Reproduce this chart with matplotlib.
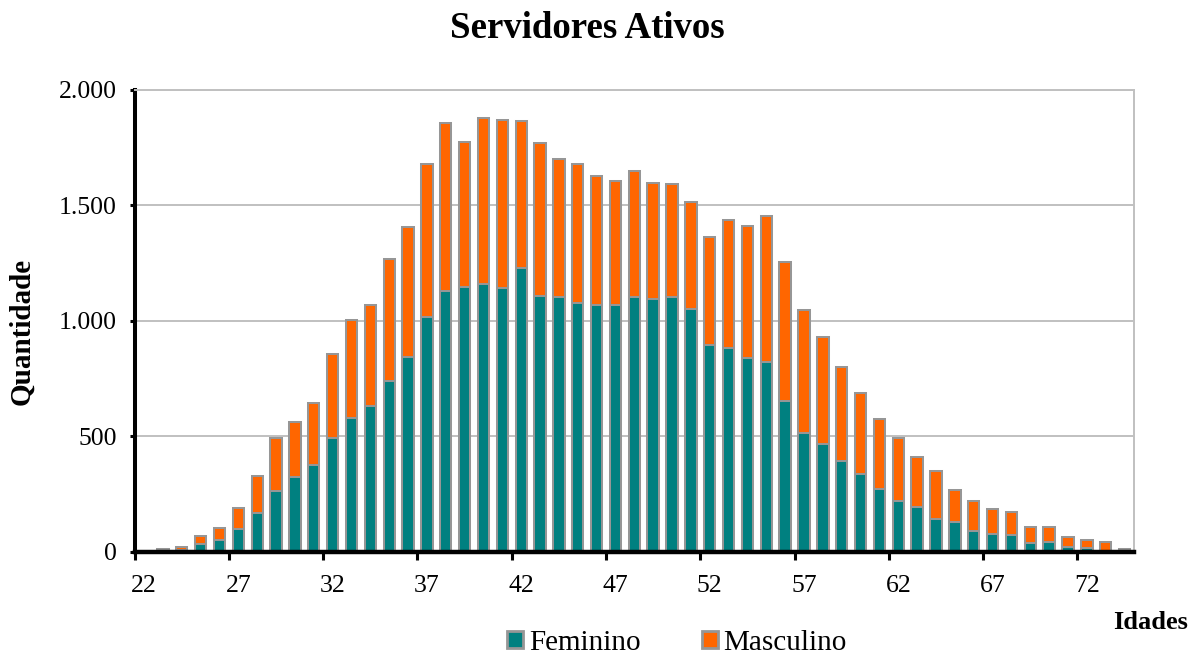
import matplotlib
matplotlib.use("Agg")
import matplotlib.pyplot as plt
from matplotlib.ticker import FuncFormatter, FixedLocator
import numpy as np

# ---- data ----
ages = list(range(22, 75))
feminino = [0, 3, 5, 32, 52, 96, 169, 262, 322, 376, 493, 580, 630, 738, 844,
            1017, 1130, 1147, 1158, 1143, 1230, 1108, 1101, 1075, 1068, 1068,
            1101, 1094, 1104, 1053, 897, 884, 837, 822, 653, 514, 464, 392,
            334, 270, 220, 191, 143, 126, 90, 78, 71, 39, 42, 20, 17, 3, 2]
masculino = [0, 10, 15, 36, 48, 94, 159, 228, 238, 269, 362, 425, 440, 528,
             564, 661, 725, 628, 719, 727, 635, 661, 601, 603, 561, 536, 548,
             504, 488, 460, 467, 552, 573, 632, 603, 532, 464, 409, 351, 304,
             274, 217, 205, 140, 128, 106, 101, 68, 65, 44, 35, 39, 10]
yticks = [0, 500, 1000, 1500, 2000]
title = "Servidores Ativos"
series_names = ["Feminino", "Masculino"]

# ---- style ----
plt.rcParams['font.family'] = ['Liberation Serif', 'DejaVu Serif']
teal = "#008080"
orange = "#FF6600"
edge = "#969696"
grid_c = "#C0C0C0"

W, H = 1201, 657
fig = plt.figure(figsize=(W / 100, H / 100), dpi=100)
left, right, top, bottom = 134.6, 1134, 90, 551.5
ax = fig.add_axes([left / W, 1 - bottom / H, (right - left) / W, (bottom - top) / H])

x = np.arange(len(ages))
bw = 0.6
lw = 1.45
b1 = ax.bar(x, feminino, width=bw, color=teal, edgecolor=edge, linewidth=lw,
            label=series_names[0], zorder=3)
b2 = ax.bar(x, masculino, width=bw, bottom=feminino, color=orange, edgecolor=edge,
            linewidth=lw, label=series_names[1], zorder=3)

ax.set_xlim(-0.5, len(ages) - 0.5)
ax.set_ylim(0, 2000)

ax.set_yticks(yticks)
ax.yaxis.set_major_formatter(FuncFormatter(lambda v, p: f"{int(v):,}".replace(",", ".")))
ax.yaxis.grid(True, color=grid_c, linewidth=1.4, zorder=0)
ax.set_axisbelow(True)

# x labels every 5 categories, tick marks at category boundaries
lab_idx = list(range(0, len(ages), 5))
ax.set_xticks(lab_idx)
ax.set_xticklabels([str(ages[i]) for i in lab_idx])
ax.xaxis.set_minor_locator(FixedLocator([i - 0.5 for i in lab_idx]))
ax.tick_params(axis='x', which='major', length=0, pad=17, labelsize=18.5)
ax.tick_params(axis='x', which='minor', length=5.5, width=2.2, color='black', direction='out')
ax.tick_params(axis='y', which='major', length=3.8, width=2.2, color='black',
               direction='out', pad=9, labelsize=18.5)

ax.spines['left'].set_linewidth(2.9)
ax.spines['left'].set_color('black')
ax.spines['bottom'].set_linewidth(3.2)
ax.spines['bottom'].set_color('black')
ax.spines['bottom'].set_zorder(5)
ax.spines['right'].set_color(grid_c)
ax.spines['right'].set_linewidth(1.4)
ax.spines['top'].set_color(grid_c)
ax.spines['top'].set_linewidth(1.4)

fig.text(587 / W, 1 - 38 / H, title, ha='center', va='baseline',
         fontsize=26.6, fontweight='bold')
fig.text(22 / W, 1 - 331 / H, "Quantidade", ha='center', va='center',
         rotation=90, fontsize=21, fontweight='bold')
fig.text(1150.5 / W, 1 - 629 / H, "Idades", ha='center', va='baseline',
         fontsize=19, fontweight='bold')

leg = fig.legend(handles=[b1, b2], labels=series_names, loc='center',
                 bbox_to_anchor=(677 / W, 1 - 643 / H), ncol=2, frameon=False,
                 fontsize=21, handlelength=0.55, handleheight=0.55,
                 handletextpad=0.2, columnspacing=2.1, borderaxespad=0)
for h in leg.legend_handles:
    h.set_linewidth(2)

fig.savefig("out.png", dpi=100)
